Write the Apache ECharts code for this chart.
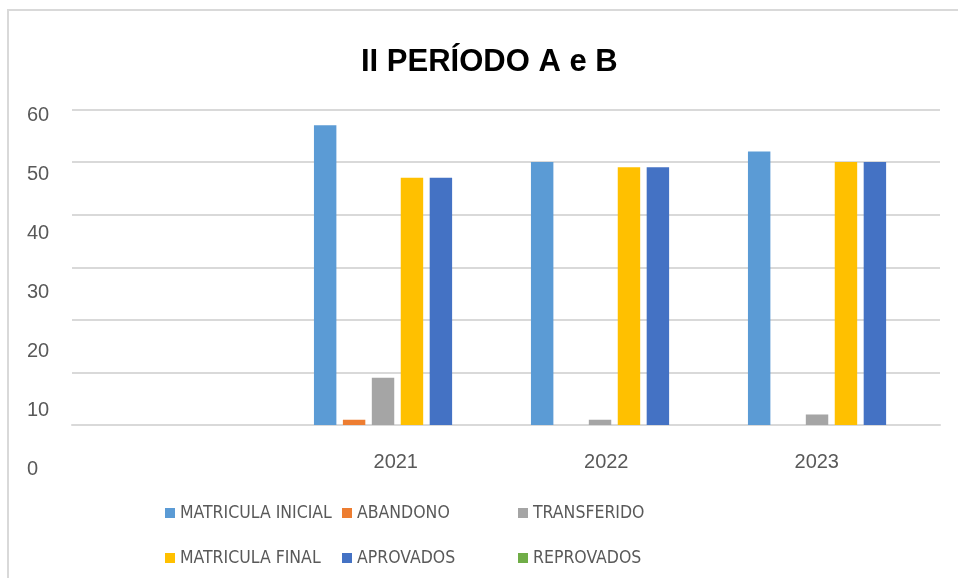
<!DOCTYPE html>
<html>
<head>
<meta charset="utf-8">
<script src="https://cdn.jsdelivr.net/npm/echarts@6/dist/echarts.min.js"></script>
<style>
  html, body { margin: 0; padding: 0; background: #fff; }
  #chart { width: 958px; height: 578px; }
</style>
</head>
<body>
<div id="chart"></div>
<script>
// data
var categories = ['', '2021', '2022', '2023'];
var seriesNames = ['MATRICULA INICIAL', 'ABANDONO', 'TRANSFERIDO', 'MATRICULA FINAL', 'APROVADOS', 'REPROVADOS'];
var matriculaInicial = [null, 57, 50, 52];
var abandono = [null, 1, 0, 0];
var transferido = [null, 9, 1, 2];
var matriculaFinal = [null, 47, 49, 50];
var aprovados = [null, 47, 49, 50];
var reprovados = [null, 0, 0, 0];
var yMin = 0, yMax = 60, yStep = 10;

var colors = ['#5B9BD5', '#ED7D31', '#A5A5A5', '#FFC000', '#4472C4', '#70AD47'];
var values = [matriculaInicial, abandono, transferido, matriculaFinal, aprovados, reprovados];
var labelColor = '#595959';
var gridColor = '#D9D9D9';

var chart = echarts.init(document.getElementById('chart'));

var series = [];
for (var i = 0; i < seriesNames.length; i++) {
	series.push({
		name: seriesNames[i],
		type: 'bar',
		xAxisIndex: 0,
		yAxisIndex: 0,
		data: values[i],
		barGap: '29%',
		barCategoryGap: '23%',
		itemStyle: { color: colors[i] }
	});
}

// legend laid out as in the picture: two rows, three fixed columns
var legendCols = [165, 342, 518];
var legendRows = [504, 549];
var legends = [];
for (var j = 0; j < seriesNames.length; j++) {
	legends.push({
		data: [seriesNames[j]],
		left: legendCols[j % 3],
		top: legendRows[Math.floor(j / 3)],
		padding: 0,
		itemWidth: 10,
		itemHeight: 10,
		itemGap: 0,
		icon: 'rect',
		selectedMode: false,
		textStyle: {
			color: labelColor,
			fontSize: 17.5,
			fontFamily: '"DejaVu Sans Condensed", "Liberation Sans", sans-serif'
		}
	});
}

var option = {
	backgroundColor: '#fff',
	animation: false,
	color: colors,
	title: {
		text: 'II PERÍODO A e B',
		left: 361,
		top: 47,
		padding: 0,
		textStyle: {
			color: '#000',
			fontSize: 31,
			fontWeight: 'bold',
			fontFamily: '"Liberation Sans", sans-serif'
		}
	},
	graphic: [{
		type: 'rect',
		shape: { x: 8, y: 10, width: 1000, height: 700 },
		style: { fill: 'none', stroke: gridColor, lineWidth: 2 },
		silent: true
	}],
	legend: legends,
	grid: [
		// plot area
		{ left: 72, right: 18, top: 109.5, bottom: 153 },
		// y tick labels (offset from the gridlines, as in the picture)
		{ left: 72, right: 18, top: 115, bottom: 109 },
		// x category labels
		{ left: 80, right: 36, top: 100, bottom: 134 }
	],
	xAxis: [
		{
			type: 'category',
			gridIndex: 0,
			data: categories,
			axisLine: { show: true, lineStyle: { color: gridColor, width: 2 } },
			axisTick: { show: false },
			axisLabel: { show: false }
		},
		{ type: 'category', gridIndex: 1, data: categories, show: false },
		{
			type: 'category',
			gridIndex: 2,
			data: categories,
			axisLine: { show: false },
			axisTick: { show: false },
			axisLabel: {
				margin: 8,
				color: labelColor,
				fontSize: 20,
				fontFamily: '"Liberation Sans", sans-serif'
			}
		}
	],
	yAxis: [
		{
			type: 'value',
			gridIndex: 0,
			min: yMin,
			max: yMax,
			interval: yStep,
			axisLine: { show: false },
			axisTick: { show: false },
			axisLabel: { show: false },
			splitLine: { lineStyle: { color: gridColor, width: 2 } }
		},
		{
			type: 'value',
			gridIndex: 1,
			min: yMin,
			max: yMax,
			interval: yStep,
			axisLine: { show: false },
			axisTick: { show: false },
			splitLine: { show: false },
			axisLabel: {
				align: 'left',
				margin: 45,
				color: labelColor,
				fontSize: 20,
				fontFamily: '"Liberation Sans", sans-serif'
			}
		},
		{ type: 'value', gridIndex: 2, show: false }
	],
	series: series
};

chart.setOption(option);
</script>
</body>
</html>
